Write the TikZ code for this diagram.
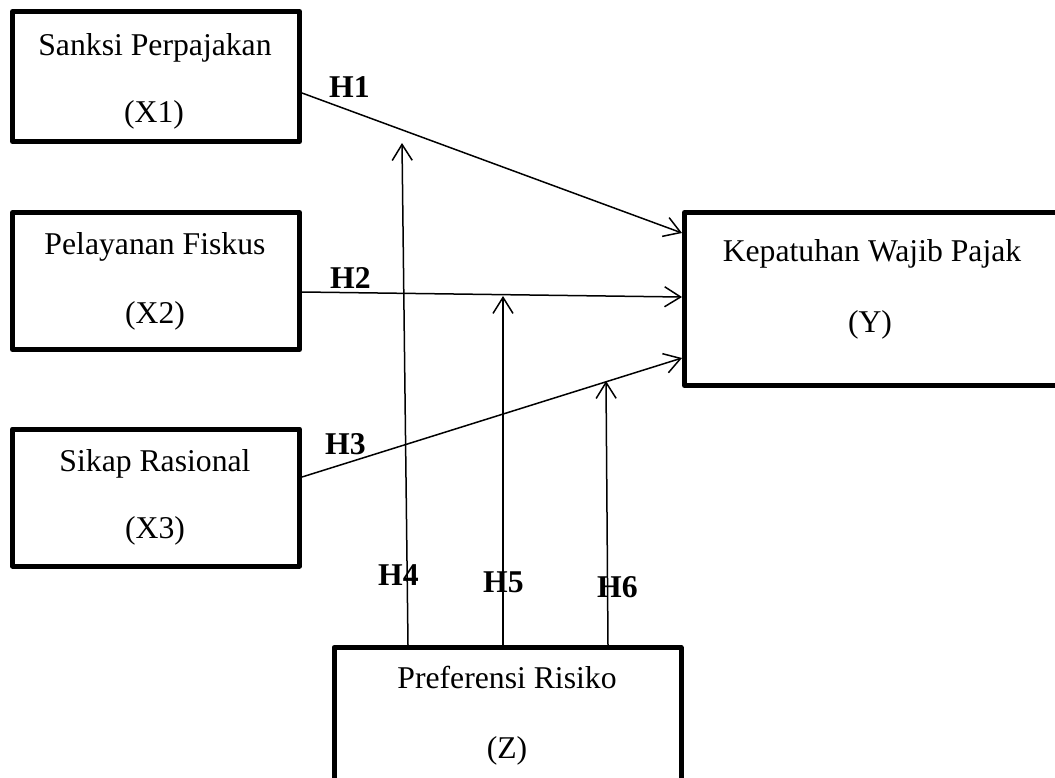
\documentclass[tikz,border=0pt]{standalone}
\usepackage{fontspec}
\setmainfont{Liberation Serif}
\usetikzlibrary{arrows.meta}
\begin{document}
\begin{tikzpicture}[x=1pt,y=-1pt,
  box/.style={draw=black,line width=5pt,line join=round,rectangle,inner sep=0pt,minimum width=#1},
  txt/.style={anchor=base,inner sep=0pt,font=\fontsize{31.7}{38}\selectfont},
  hlab/.style={anchor=base west,inner sep=0pt,font=\fontsize{31.7}{38}\selectfont\bfseries},
  link/.style={line width=1.5pt,-{Straight Barb[length=16pt,width=20pt,line width=1.5pt]}}]
\useasboundingbox (0,0) rectangle (1055,777);
\clip (0,0) rectangle (1055,777);
% boxes
\node[box=287pt,minimum height=130pt] (x1) at (156,76.5) {};
\node[box=287pt,minimum height=137pt] (x2) at (156,281) {};
\node[box=287pt,minimum height=137pt] (x3) at (156,497.5) {};
\node[box=385.5pt,minimum height=173pt] (y) at (877.25,299) {};
\node[box=347pt,minimum height=142.5pt] (z) at (507.5,718.75) {};
% texts
\node[txt] (t1a) at (155,55) {Sanksi Perpajakan};
\node[txt] (t1b) at (154,122) {(X1)};
\node[txt] (t2a) at (155,254) {Pelayanan Fiskus};
\node[txt] (t2b) at (155,323) {(X2)};
\node[txt] (t3a) at (155,471) {Sikap Rasional};
\node[txt] (t3b) at (155,538) {(X3)};
\node[txt] (tya) at (872,261) {Kepatuhan Wajib Pajak};
\node[txt] (tyb) at (870,332) {(Y)};
\node[txt] (tza) at (507,688) {Preferensi Risiko};
\node[txt] (tzb) at (507,758) {(Z)};
% free ends of moderating arrows
\coordinate (h4tip) at (402,143);
\coordinate (h5tip) at (503,296);
\coordinate (h6tip) at (606,381);
% direct effects
\draw[link] ([yshift=-16.5pt]x1.east) -- ([yshift=66pt]y.west);
\draw[link] ([yshift=-11pt]x2.east) -- ([yshift=2pt]y.west);
\draw[link] ([yshift=20.5pt]x3.east) -- ([yshift=-59pt]y.west);
% moderating effects
\draw[link] ([xshift=-99.5pt]z.north) -- (h4tip);
\draw[link] ([xshift=-4.5pt]z.north) -- (h5tip);
\draw[link] ([xshift=100.5pt]z.north) -- (h6tip);
% labels
\node[hlab] (h1) at (329,97) {H1};
\node[hlab] (h2) at (330,288) {H2};
\node[hlab] (h3) at (325,454) {H3};
\node[hlab] (h4) at (378,585) {H4};
\node[hlab] (h5) at (483,592) {H5};
\node[hlab] (h6) at (597,597) {H6};
\end{tikzpicture}
\end{document}
